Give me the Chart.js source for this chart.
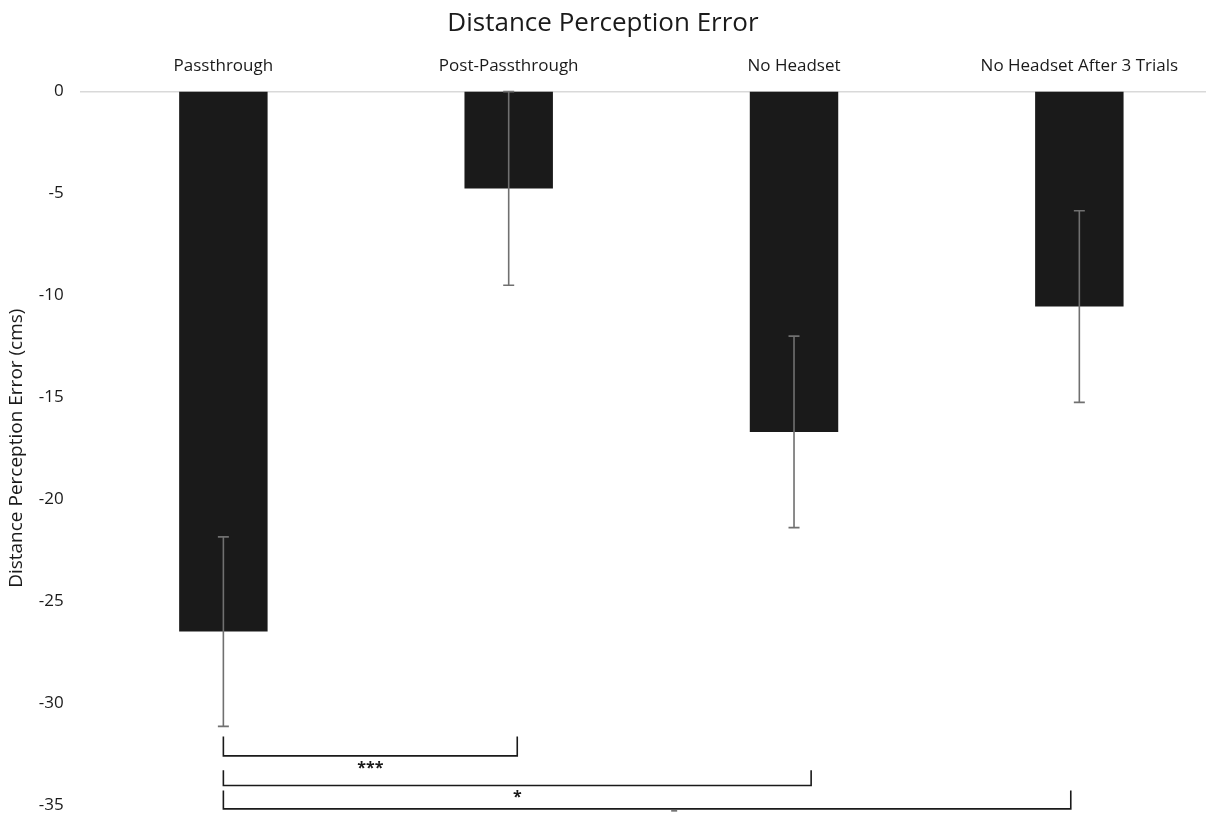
<!DOCTYPE html>
<html>
<head>
<meta charset="utf-8">
<script src="https://cdn.jsdelivr.net/npm/chart.js@4"></script>
<style>
  html, body { margin: 0; padding: 0; background: #fff; }
  #wrap { width: 1206px; height: 814px; }
</style>
</head>
<body>
<div id="wrap"><canvas id="canvas"></canvas></div>
<script>
var categories = ["Passthrough", "Post-Passthrough", "No Headset", "No Headset After 3 Trials"];
var meanError = [-26.5, -4.75, -16.7, -10.55];
var errorSize = [4.65, 4.75, 4.7, 4.7];
var yTicks = [0, -5, -10, -15, -20, -25, -30, -35];

// significance brackets: from / to category index, label
var sigFrom = [0, 0, 0];
var sigTo = [1.03, 2.06, 2.97];
var sigLabels = ["***", "*", ""];

var fontName = "'Open Sans', 'Liberation Sans', sans-serif";

// the plot runs a little past the right and bottom edges of the picture
var stretchArea = {
    id: 'stretchArea',
    afterLayout: function(chart) {
        var x = chart.scales.x, y = chart.scales.y;
        var dx = 16, dy = 10;
        x.right += dx; x.width += dx;
        chart.chartArea.right += dx; chart.chartArea.width += dx;
        y.bottom += dy; y.height += dy;
        chart.chartArea.bottom += dy; chart.chartArea.height += dy;
        x.configure();
        y.configure();
    }
};

var errorBars = {
    id: 'errorBars',
    afterDatasetsDraw: function(chart) {
        var ctx = chart.ctx;
        var y = chart.scales.y;
        var meta = chart.getDatasetMeta(0);
        ctx.save();
        ctx.strokeStyle = '#707070';
        ctx.lineWidth = 1.6;
        meta.data.forEach(function(bar, i) {
            var top = y.getPixelForValue(meanError[i] + errorSize[i]);
            var bot = y.getPixelForValue(meanError[i] - errorSize[i]);
            ctx.beginPath();
            ctx.moveTo(bar.x, top); ctx.lineTo(bar.x, bot);
            ctx.moveTo(bar.x - 5.5, top); ctx.lineTo(bar.x + 5.5, top);
            ctx.moveTo(bar.x - 5.5, bot); ctx.lineTo(bar.x + 5.5, bot);
            ctx.stroke();
        });
        ctx.restore();
    }
};

var brackets = {
    id: 'brackets',
    afterDraw: function(chart) {
        var ctx = chart.ctx;
        var x = chart.scales.x;
        var y = chart.scales.y;
        var px = function(v) {
            var a = x.getPixelForValue(0), b = x.getPixelForValue(1);
            return a + (b - a) * v;
        };
        // vertical extents of each bracket, in axis units
        var tops = [-31.65, -33.3, -34.3];
        var bots = [-32.6, -34.05, -35.2];
        var labelY = [-33.05, -34.5];
        ctx.save();
        ctx.strokeStyle = '#1a1a1a';
        ctx.lineWidth = 1.6;
        ctx.fillStyle = '#1a1a1a';
        ctx.font = 'bold 16px ' + fontName;
        ctx.textAlign = 'center';
        ctx.textBaseline = 'middle';
        for (var i = 0; i < sigFrom.length; i++) {
            var x1 = px(sigFrom[i]), x2 = px(sigTo[i]);
            var t = y.getPixelForValue(tops[i]), b = y.getPixelForValue(bots[i]);
            ctx.beginPath();
            ctx.moveTo(x1, t); ctx.lineTo(x1, b); ctx.lineTo(x2, b); ctx.lineTo(x2, t);
            ctx.stroke();
            if (sigLabels[i]) {
                ctx.fillText(sigLabels[i], (x1 + x2) / 2, y.getPixelForValue(labelY[i]) + 3);
            }
        }
        // small mark below the last bracket
        var mx = px(1.58), my = y.getPixelForValue(-35.3);
        ctx.beginPath();
        ctx.lineWidth = 1;
        ctx.moveTo(mx - 3, my); ctx.lineTo(mx + 3, my);
        ctx.stroke();
        ctx.restore();
    }
};

window.onload = function() {
    var ctx = document.getElementById("canvas").getContext("2d");
    window.myBar = new Chart(ctx, {
        type: 'bar',
        data: {
            labels: categories,
            datasets: [{
                label: 'Distance Perception Error',
                data: meanError,
                backgroundColor: '#1a1a1a',
                borderWidth: 0,
                barPercentage: 0.31,
                categoryPercentage: 1.0
            }]
        },
        options: {
            responsive: true,
            maintainAspectRatio: false,
            animation: false,
            layout: { padding: { top: 0, right: 0, bottom: 0, left: 0 } },
            plugins: {
                legend: { display: false },
                tooltip: { enabled: false },
                title: {
                    display: true,
                    text: 'Distance Perception Error',
                    color: '#1a1a1a',
                    font: { family: fontName, size: 26, weight: 'normal' },
                    padding: { top: 8, bottom: 10 }
                }
            },
            scales: {
                x: {
                    position: 'top',
                    grid: { display: false },
                    border: { display: true, color: '#d9d9d9', width: 1.5 },
                    ticks: {
                        color: '#1a1a1a',
                        font: { family: fontName, size: 17 },
                        padding: 7,
                        maxRotation: 0
                    }
                },
                y: {
                    min: -35,
                    max: 0,
                    afterBuildTicks: function(axis) {
                        axis.ticks = yTicks.map(function(v) { return { value: v }; });
                    },
                    grid: { display: false },
                    border: { display: false },
                    ticks: {
                        color: '#1a1a1a',
                        font: { family: fontName, size: 17 },
                        padding: 9
                    },
                    title: {
                        display: true,
                        text: 'Distance Perception Error (cms)',
                        color: '#1a1a1a',
                        font: { family: fontName, size: 19 },
                        padding: { top: 5, bottom: 2 }
                    }
                }
            }
        },
        plugins: [stretchArea, errorBars, brackets]
    });
};
</script>
</body>
</html>
